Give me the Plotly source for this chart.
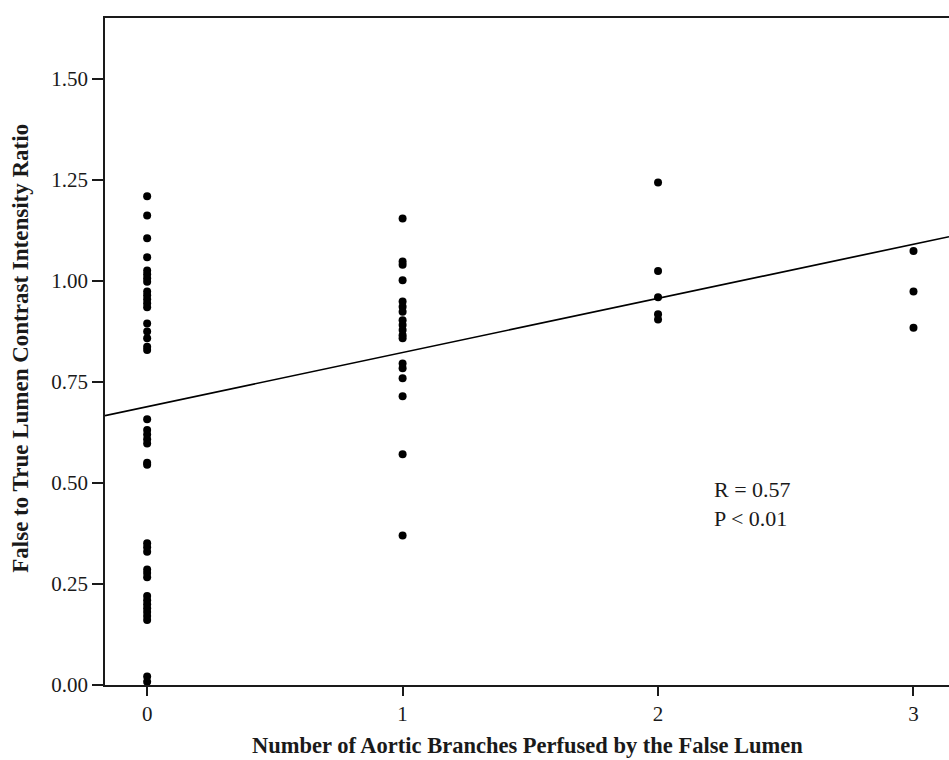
import plotly.graph_objects as go

# Data
branches_0 = [1.210, 1.162, 1.106, 1.059, 1.026, 1.017, 1.007, 0.998, 0.974, 0.965,
              0.955, 0.945, 0.935, 0.895, 0.875, 0.858, 0.837, 0.829,
              0.658, 0.631, 0.620, 0.608, 0.598, 0.550, 0.545,
              0.351, 0.341, 0.330, 0.286, 0.277, 0.267,
              0.220, 0.210, 0.200, 0.190, 0.181, 0.171, 0.161,
              0.021, 0.008]
branches_1 = [1.155, 1.048, 1.040, 1.002, 0.949, 0.936, 0.924, 0.903, 0.891, 0.879,
              0.866, 0.858, 0.796, 0.784, 0.759, 0.715, 0.571, 0.370]
branches_2 = [1.244, 1.025, 0.960, 0.918, 0.905]
branches_3 = [1.074, 0.974, 0.884]

groups = [0, 1, 2, 3]
group_values = [branches_0, branches_1, branches_2, branches_3]

fit_intercept = 0.689
fit_slope = 0.134

x_ticks = [0, 1, 2, 3]
y_ticks = [0.00, 0.25, 0.50, 0.75, 1.00, 1.25, 1.50]
y_tick_labels = ["0.00", "0.25", "0.50", "0.75", "1.00", "1.25", "1.50"]

x_range = [-0.165, 3.139]
y_range = [0, 1.651]

annotation_text = "R = 0.57<br>P < 0.01"
x_title = "Number of Aortic Branches Perfused by the False Lumen"
y_title = "False to True Lumen Contrast Intensity Ratio"

xs, ys = [], []
for g, vals in zip(groups, group_values):
    xs += [g] * len(vals)
    ys += vals

fig = go.Figure()
fig.add_trace(go.Scatter(
    x=xs, y=ys, mode="markers",
    marker=dict(color="black", size=8),
    showlegend=False, hoverinfo="x+y",
))
fig.add_trace(go.Scatter(
    x=x_range, y=[fit_intercept + fit_slope * v for v in x_range],
    mode="lines", line=dict(color="black", width=1.7),
    showlegend=False, hoverinfo="skip",
))

font_family = "Liberation Serif, Times New Roman, serif"
ink = "#1a1a1a"

fig.update_layout(
    width=949, height=760,
    margin=dict(l=105, r=0, t=18, b=75),
    paper_bgcolor="white", plot_bgcolor="white",
    font=dict(family=font_family, color=ink, size=21),
    xaxis=dict(
        range=x_range, tickvals=x_ticks, ticktext=[str(t) for t in x_ticks],
        showgrid=False, zeroline=False,
        showline=True, linecolor=ink, linewidth=1.7, mirror=True,
        ticks="outside", ticklen=9, tickwidth=1.6, tickcolor=ink,
        tickfont=dict(size=21, family=font_family, color=ink),
    ),
    yaxis=dict(
        range=y_range, tickvals=y_ticks, ticktext=y_tick_labels,
        showgrid=False, zeroline=False,
        showline=True, linecolor=ink, linewidth=1.7,
        ticks="outside", ticklen=11, tickwidth=1.6, tickcolor=ink,
        tickfont=dict(size=21, family=font_family, color=ink),
    ),
    annotations=[
        dict(x=2.21, y=0.447, xref="x", yref="y", text=annotation_text,
             showarrow=False, xanchor="left", yanchor="middle", align="left",
             font=dict(size=22, family=font_family, color=ink)),
        dict(x=0.5, y=-0.09, xref="paper", yref="paper", text="<b>" + x_title + "</b>",
             showarrow=False, xanchor="center", yanchor="middle",
             font=dict(size=22.5, family=font_family, color=ink)),
        dict(x=-0.1, y=0.505, xref="paper", yref="paper", text="<b>" + y_title + "</b>",
             showarrow=False, textangle=-90, xanchor="center", yanchor="middle",
             font=dict(size=23, family=font_family, color=ink)),
    ],
)

fig.write_html("out.html", config={"displayModeBar": False},
               post_script="document.body.style.margin='0px';")
